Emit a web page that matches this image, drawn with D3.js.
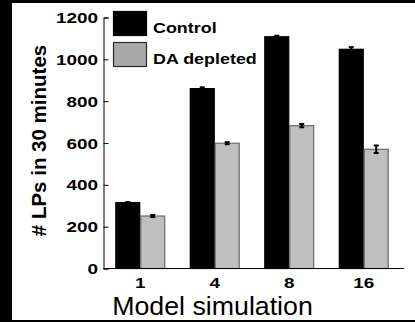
<!DOCTYPE html>
<html>
<head>
<meta charset="utf-8">
<script src="https://cdn.jsdelivr.net/npm/d3@7"></script>
<style>
  html, body { margin: 0; padding: 0; background: #fff; overflow: hidden; width: 415px; height: 322px; }
  svg { position: absolute; left: 0; top: 0; display: block; font-family: "Liberation Sans", Arial, Helvetica, sans-serif; }
</style>
</head>
<body>
<svg id="chart" width="415" height="322"></svg>
<script>
// values
var categories = ["1", "4", "8", "16"];
var seriesNames = ["Control", "DA depleted"];
var controlValues = [315, 860, 1108, 1048];
var controlErrors = [3, 6, 5, 10];
var depletedValues = [251, 599, 683, 570];
var depletedErrors = [5, 5, 8, 18];
var yTicks = [0, 200, 400, 600, 800, 1000, 1200];

var width = 415, height = 322;
var svg = d3.select("#chart");

svg.append("rect").attr("width", width).attr("height", height).attr("fill", "#fff");
// black frame bits round the picture
svg.append("rect").attr("x", 0).attr("y", 0).attr("width", 12).attr("height", height).attr("fill", "#000");
svg.append("rect").attr("x", 0).attr("y", 0).attr("width", width).attr("height", 3).attr("fill", "#000");
svg.append("rect").attr("x", 0).attr("y", 320).attr("width", width).attr("height", 2).attr("fill", "#000");

var x = d3.scaleBand()
  .domain(categories)
  .range([103, 401])
  .paddingInner(0.33)
  .paddingOuter(0.165);

var xSub = d3.scaleBand()
  .domain(seriesNames)
  .range([0, x.bandwidth()]);

var y = d3.scaleLinear()
  .domain([0, 1200])
  .range([268.5, 17.5]);

var fills = { "Control": "#000", "DA depleted": "#bfbfbf" };
var strokes = { "Control": "#000", "DA depleted": "#6a6a6a" };

var rows = categories.map(function(c, i) {
  return [
    { cat: c, name: "Control", value: controlValues[i], err: controlErrors[i] },
    { cat: c, name: "DA depleted", value: depletedValues[i], err: depletedErrors[i] }
  ];
});
var flat = [].concat.apply([], rows);

// bars
svg.append("g").selectAll("rect")
  .data(flat)
  .enter()
  .append("rect")
    .attr("x", function(d) { return x(d.cat) + xSub(d.name) + 0.5; })
    .attr("y", function(d) { return y(d.value); })
    .attr("width", xSub.bandwidth() - 1)
    .attr("height", function(d) { return y(0) - y(d.value); })
    .attr("fill", function(d) { return fills[d.name]; })
    .attr("stroke", function(d) { return strokes[d.name]; })
    .attr("stroke-width", 1.2);

// error bars
var eb = svg.append("g").selectAll("g")
  .data(flat)
  .enter()
  .append("g")
    .attr("transform", function(d) { return "translate(" + (x(d.cat) + xSub(d.name) + xSub.bandwidth() / 2) + ",0)"; })
    .attr("stroke", "#000")
    .attr("stroke-width", 2);
eb.append("line")
  .attr("x1", 0).attr("x2", 0)
  .attr("y1", function(d) { return y(d.value - d.err); })
  .attr("y2", function(d) { return y(d.value + d.err); });
eb.append("line")
  .attr("x1", -2.5).attr("x2", 2.5)
  .attr("y1", function(d) { return y(d.value + d.err); })
  .attr("y2", function(d) { return y(d.value + d.err); });
eb.append("line")
  .attr("x1", -2.5).attr("x2", 2.5)
  .attr("y1", function(d) { return y(d.value - d.err); })
  .attr("y2", function(d) { return y(d.value - d.err); });

// y axis, ticks pointing inward
var yAxis = svg.append("g")
  .attr("transform", "translate(103.5,0)")
  .call(d3.axisLeft(y).tickValues(yTicks).tickFormat(d3.format("d"))
    .tickSizeInner(-5).tickSizeOuter(-5).tickPadding(5.5));
yAxis.selectAll("text")
  .attr("x", 0)
  .attr("dy", "0.36em")
  .attr("transform", "translate(-5.5,0) scale(1.35,1)")
  .style("font-size", "14px")
  .style("font-weight", "bold")
  .attr("fill", "#000");
yAxis.selectAll("line").attr("stroke", "#000");
yAxis.select(".domain").attr("stroke", "#000");

// x axis
var xAxis = svg.append("g")
  .attr("transform", "translate(0," + y(0) + ")")
  .call(d3.axisBottom(x).tickSize(0).tickPadding(8));
xAxis.select(".domain").attr("d", "M103," + 0 + "H" + (x.range()[1] + 3)).attr("stroke", "#000");
xAxis.selectAll(".tick text")
  .attr("y", 0)
  .attr("dy", 0)
  .attr("transform", "translate(0,19) scale(1.35,1)")
  .style("font-size", "14px")
  .style("font-weight", "bold")
  .attr("fill", "#000");

// axis titles
svg.append("text")
  .attr("transform", "translate(212.5,315) scale(1.07,1)")
  .attr("text-anchor", "middle")
  .style("font-size", "25px")
  .text("Model simulation");

svg.append("text")
  .attr("transform", "translate(46,140.5) rotate(-90)")
  .attr("text-anchor", "middle")
  .style("font-size", "20.5px")
  .style("font-weight", "bold")
  .text("# LPs in 30 minutes");

// legend
var legend = svg.append("g").selectAll("g")
  .data(seriesNames)
  .enter()
  .append("g")
    .attr("transform", function(d, i) { return "translate(113," + (11 + i * 31) + ")"; });
legend.append("rect")
  .attr("x", 0.5).attr("y", 0.5)
  .attr("width", 33).attr("height", 24)
  .attr("fill", function(d) { return d == "Control" ? "#000" : "#a9a9a9"; })
  .attr("stroke", function(d) { return d == "Control" ? "#000" : "#2a2a2a"; })
  .attr("stroke-width", 1.2);
legend.append("text")
  .attr("transform", "translate(40,22.3) scale(1.28,1)")
  .style("font-size", "14px")
  .style("font-weight", "bold")
  .text(function(d) { return d; });
</script>
</body>
</html>
